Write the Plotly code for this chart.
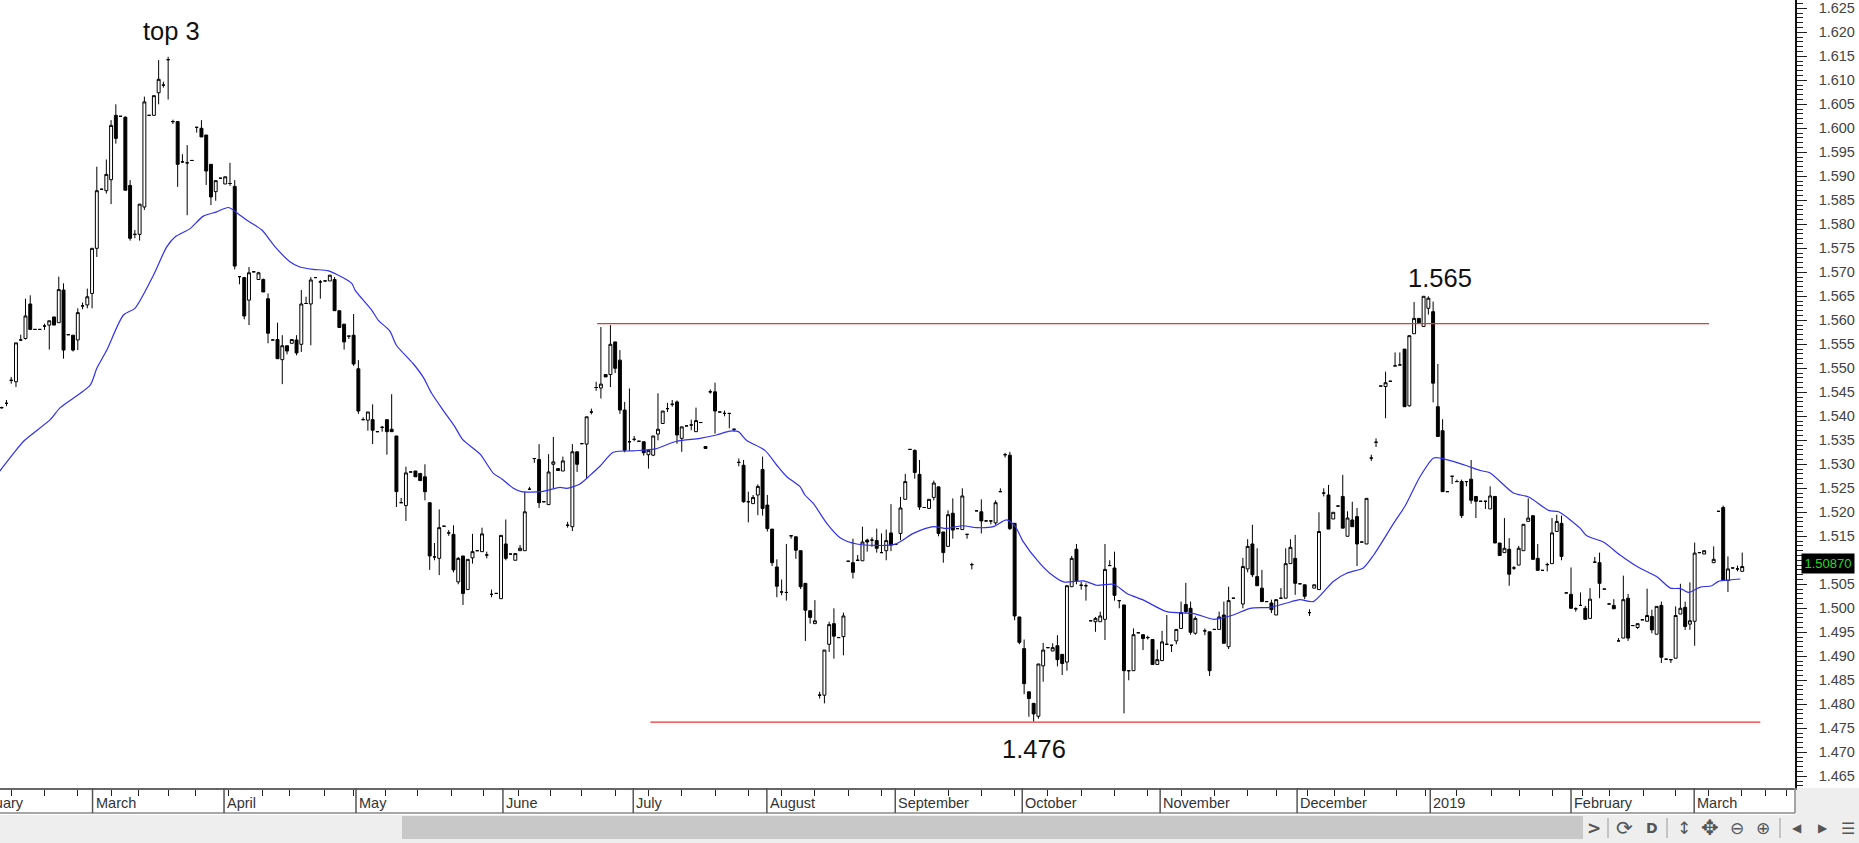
import plotly.graph_objects as go

# ---- daily bars (session number = position in the list; None = no bar) ----
opens = [
1.5418,1.5427,1.5475,1.5472,1.5559,1.5562,1.5634,1.5581,1.5581,1.5588,
1.5590,1.5607,1.5595,1.5663,1.5570,1.5569,1.5559,1.5630,1.5632,1.5656,
1.5750,1.5873,1.5870,1.5893,1.6027,1.6025,1.6023,1.5881,1.5779,1.5779,
1.5836,1.6027,1.6027,1.6074,1.6090,1.6143,1.6014,1.6014,1.5930,1.5928,
1.5933,1.6002,1.6000,1.5986,1.5925,1.5868,1.5896,1.5884,1.5885,1.5879,
1.5691,1.5689,1.5642,1.5701,1.5685,1.5685,1.5645,1.5559,1.5560,1.5518,
1.5547,1.5552,1.5559,1.5550,1.5635,1.5634,1.5689,1.5680,1.5682,1.5682,
1.5685,1.5620,1.5592,1.5567,1.5569,1.5499,1.5393,1.5392,1.5393,1.5368,
1.5377,1.5393,1.5373,1.5359,1.5220,1.5214,1.5284,1.5286,1.5281,1.5274,
1.5220,1.5107,1.5104,1.5171,1.5157,1.5154,1.5055,1.5109,1.5039,1.5105,
1.5120,1.5118,1.5111,1.5029,1.5031,1.5020,1.5134,1.5113,1.5100,1.5120,
1.5120,1.5248,1.5312,1.5310,1.5222,1.5216,1.5300,1.5291,1.5286,1.5173,
1.5170,1.5326,1.5343,1.5342,1.5409,1.5460,1.5459,1.5487,1.5487,1.5555,
1.5517,1.5413,1.5347,1.5352,1.5348,1.5347,1.5320,1.5319,1.5363,1.5385,
1.5416,1.5425,1.5430,1.5354,1.5380,1.5382,1.5368,1.5387,1.5337,1.5451,
1.5451,1.5409,1.5406,1.5406,1.5373,1.5304,1.5298,1.5222,1.5218,1.5236,
1.5289,1.5215,1.5165,1.5086,1.5034,1.5033,1.5151,1.5149,1.5120,1.5052,
1.4995,1.4968,1.4819,1.4819,1.4925,1.4968,1.4939,1.4941,1.5098,1.5095,
1.5100,1.5099,1.5142,1.5142,1.5141,1.5116,1.5120,1.5157,1.5133,1.5156,
1.5227,1.5331,1.5329,1.5279,1.5210,1.5208,1.5231,1.5253,1.5159,1.5129,
1.5198,1.5166,1.5164,1.5154,1.5091,1.5203,1.5201,1.5182,1.5182,1.5178,
1.5243,1.5320,1.5319,1.5177,1.4982,1.4916,1.4826,1.4802,1.4775,1.4880,
1.4918,1.4911,1.4922,1.4904,1.4888,1.5045,1.5123,1.5048,1.5047,1.4974,
1.4972,1.4972,1.4977,1.5089,1.5084,1.5016,1.5007,1.4870,1.4870,1.4949,
1.4945,1.4939,1.4935,1.4883,1.4891,1.4925,1.4923,1.4932,1.4958,1.5008,
1.5000,1.4948,None,1.4953,1.4951,1.4956,1.4956,1.4986,1.4920,1.5021,
None,1.5009,1.5082,1.5134,1.5066,1.5042,1.5014,1.5011,1.4986,1.5021,
1.5021,1.5093,1.5104,1.5051,1.5049,1.4991,1.5042,1.5039,1.5240,1.5236,
1.5186,1.5213,1.5233,1.5150,1.5184,1.5191,1.5138,1.5134,1.5313,1.5346,
1.5463,1.5462,1.5473,1.5505,1.5507,1.5540,1.5422,1.5572,1.5604,1.5587,
1.5625,1.5618,1.5420,1.5370,1.5243,1.5275,1.5264,1.5264,1.5264,1.5269,
1.5233,1.5223,1.5223,1.5207,1.5233,1.5136,1.5116,1.5123,1.5084,1.5090,
1.5120,1.5181,1.5193,1.5104,1.5079,1.5091,1.5093,1.5160,1.5177,1.5032,
1.5029,1.4999,1.5006,1.5000,1.4979,1.5096,1.5095,1.5040,1.5009,1.5006,
1.4932,1.4938,1.5021,1.4964,1.4960,1.4976,1.4973,1.4983,1.4946,1.5006,
1.4894,1.4893,1.4896,1.4988,1.5002,1.4967,1.4973,1.5116,1.5113,None,
1.5095,1.5202,1.5210,1.5058,1.5084,1.5082,1.5077]

highs = [
1.5420,1.5434,1.5482,1.5553,1.5570,1.5645,1.5652,1.5581,1.5581,1.5593,
1.5599,1.5607,1.5691,1.5677,1.5570,1.5569,1.5625,1.5637,1.5666,1.5750,
1.5920,1.5873,1.5935,1.6017,1.6050,1.6025,1.6025,1.5892,1.5788,1.5842,
1.6066,1.6027,1.6068,1.6142,1.6097,1.6149,1.6018,1.6014,1.5946,1.5965,
1.5933,1.6002,1.6017,1.5986,1.5925,1.5891,1.5896,1.5899,1.5928,1.5892,
1.5691,1.5689,1.5711,1.5701,1.5701,1.5687,1.5656,1.5559,1.5595,1.5569,
1.5547,1.5560,1.5569,1.5663,1.5649,1.5690,1.5689,1.5684,1.5682,1.5694,
1.5690,1.5620,1.5592,1.5567,1.5613,1.5517,1.5398,1.5409,1.5425,1.5368,
1.5380,1.5393,1.5446,1.5359,1.5230,1.5295,1.5284,1.5286,1.5281,1.5300,
1.5220,1.5136,1.5206,1.5171,1.5163,1.5173,1.5107,1.5109,1.5102,1.5155,
1.5120,1.5168,1.5118,1.5039,1.5031,1.5152,1.5185,1.5113,1.5114,1.5132,
1.5243,1.5253,1.5312,1.5342,1.5222,1.5321,1.5357,1.5291,1.5316,1.5180,
1.5342,1.5326,1.5343,1.5399,1.5416,1.5472,1.5586,1.5487,1.5590,1.5555,
1.5538,1.5430,1.5458,1.5359,1.5348,1.5347,1.5329,1.5359,1.5448,1.5411,
1.5428,1.5434,1.5433,1.5378,1.5380,1.5393,1.5418,1.5387,1.5337,1.5456,
1.5470,1.5409,1.5412,1.5406,1.5373,1.5312,1.5309,1.5243,1.5236,1.5258,
1.5316,1.5236,1.5165,1.5102,1.5060,1.5134,1.5151,1.5149,1.5120,1.5052,
1.4995,1.5017,1.4826,1.4913,1.4972,1.5000,1.4939,1.4991,1.5098,1.5145,
1.5111,1.5170,1.5145,1.5148,1.5166,1.5156,1.5164,1.5217,1.5133,1.5232,
1.5280,1.5331,1.5331,1.5309,1.5210,1.5227,1.5266,1.5253,1.5159,1.5204,
1.5229,1.5166,1.5250,1.5154,1.5095,1.5203,1.5227,1.5182,1.5182,1.5225,
1.5250,1.5324,1.5326,1.5177,1.4982,1.4935,1.4826,1.4802,1.4884,1.4928,
1.4918,1.4927,1.4944,1.4904,1.5047,1.5109,1.5134,1.5055,1.5052,1.4974,
1.4982,1.4993,1.5134,1.5100,1.5118,1.5016,1.5007,1.4870,1.4958,1.4949,
1.4945,1.4943,1.4935,1.4914,1.4953,1.4986,1.4923,1.4956,1.5014,1.5053,
1.5014,1.4983,None,1.4958,1.4951,1.4956,1.4993,1.5014,1.5045,1.5021,
None,1.5105,1.5144,1.5174,1.5125,1.5080,1.5014,1.5018,1.5018,1.5042,
1.5125,1.5144,1.5153,1.5051,1.5049,1.4998,1.5049,1.5200,1.5250,1.5257,
1.5200,1.5213,1.5278,1.5202,1.5222,1.5209,1.5138,1.5229,1.5320,1.5354,
1.5463,1.5493,1.5473,1.5533,1.5533,1.5540,1.5568,1.5638,1.5604,1.5650,
1.5650,1.5639,1.5509,1.5394,1.5243,1.5275,1.5268,1.5268,1.5264,1.5309,
1.5233,1.5223,1.5223,1.5254,1.5233,1.5136,1.5188,1.5146,1.5088,1.5130,
1.5175,1.5229,1.5193,1.5134,1.5079,1.5095,1.5188,1.5195,1.5193,1.5032,
1.5085,1.5002,1.5033,1.5005,1.5042,1.5107,1.5116,1.5040,1.5009,1.5019,
1.4938,1.5068,1.5030,1.4964,1.4968,1.4976,1.5041,1.4997,1.5004,1.5014,
1.4894,1.4893,1.5004,1.5051,1.5014,1.5054,1.5137,1.5116,1.5120,None,
1.5129,1.5202,1.5214,1.5108,1.5084,1.5089,1.5116]

lows = [
1.5416,1.5421,1.5468,1.5461,1.5557,1.5560,1.5581,1.5581,1.5581,1.5580,
1.5539,1.5590,1.5595,1.5520,1.5570,1.5535,1.5538,1.5623,1.5625,1.5625,
1.5732,1.5873,1.5864,1.5842,1.5968,1.6025,1.5871,1.5766,1.5771,1.5766,
1.5830,1.6027,1.6027,1.6050,1.6085,1.6060,1.6009,1.5878,1.5928,1.5819,
1.5933,1.5991,1.5982,1.5882,1.5840,1.5849,1.5896,1.5884,1.5880,1.5706,
1.5675,1.5602,1.5590,1.5701,1.5685,1.5659,1.5552,1.5559,1.5520,1.5467,
1.5529,1.5552,1.5527,1.5534,1.5635,1.5548,1.5689,1.5645,1.5682,1.5682,
1.5620,1.5585,1.5539,1.5561,1.5505,1.5405,1.5393,1.5370,1.5342,1.5368,
1.5368,1.5320,1.5368,1.5211,1.5220,1.5182,1.5284,1.5274,1.5266,1.5225,
1.5080,1.5100,1.5069,1.5171,1.5151,1.5075,1.5050,1.5007,1.5039,1.5093,
1.5120,1.5118,1.5104,1.5023,1.5031,1.5020,1.5100,1.5113,1.5100,1.5120,
1.5120,1.5248,1.5303,1.5209,1.5222,1.5216,1.5250,1.5287,1.5286,1.5168,
1.5161,1.5284,1.5343,1.5270,1.5404,1.5453,1.5437,1.5482,1.5461,1.5490,
1.5405,1.5325,1.5328,1.5348,1.5348,1.5318,1.5291,1.5317,1.5350,1.5385,
1.5409,1.5420,1.5343,1.5326,1.5380,1.5371,1.5368,1.5387,1.5333,1.5447,
1.5364,1.5409,1.5400,1.5375,1.5368,1.5296,1.5220,1.5179,1.5218,1.5194,
1.5193,1.5160,1.5088,1.5023,1.5027,1.5016,1.5145,1.5103,1.5040,1.4932,
1.4968,1.4968,1.4812,1.4802,1.4909,1.4895,1.4939,1.4902,1.5098,1.5062,
1.5100,1.5099,1.5118,1.5128,1.5116,1.5116,1.5100,1.5119,1.5133,1.5142,
1.5227,1.5331,1.5270,1.5205,1.5210,1.5208,1.5225,1.5150,1.5095,1.5129,
1.5145,1.5166,1.5164,1.5145,1.5081,1.5203,1.5156,1.5182,1.5175,1.5174,
1.5243,1.5314,1.5163,1.4975,1.4925,1.4821,1.4774,1.4764,1.4770,1.4847,
1.4918,1.4911,1.4879,1.4861,1.4870,1.5045,1.5050,1.5039,1.5016,1.4974,
1.4951,1.4972,1.4934,1.5089,1.5016,1.5000,1.4781,1.4850,1.4870,1.4949,
1.4913,1.4935,1.4883,1.4883,1.4891,1.4925,1.4909,1.4925,1.4958,1.4990,
1.4945,1.4945,None,1.4944,1.4859,1.4956,1.4956,1.4927,1.4915,1.5021,
None,1.5000,1.5075,1.5065,1.5047,1.5014,1.5014,1.4990,1.4986,1.5021,
1.5021,1.5093,1.5028,1.5051,1.5019,1.4984,1.5042,1.5039,1.5233,1.5165,
1.5186,1.5213,1.5167,1.5150,1.5170,1.5088,1.5138,1.5134,1.5307,1.5336,
1.5463,1.5396,1.5473,1.5505,1.5507,1.5420,1.5420,1.5572,1.5595,1.5587,
1.5612,1.5429,1.5358,1.5243,1.5243,1.5259,1.5264,1.5188,1.5254,1.5218,
1.5188,1.5223,1.5207,1.5207,1.5136,1.5110,1.5116,1.5047,1.5080,1.5090,
1.5120,1.5181,1.5102,1.5079,1.5079,1.5077,1.5093,1.5160,1.5100,1.5032,
1.5000,1.4993,1.5006,1.4977,1.4979,1.5096,1.5021,1.5040,1.5009,1.4999,
1.4932,1.4938,1.4932,1.4964,1.4957,1.4976,1.4973,1.4948,1.4946,1.4886,
1.4894,1.4886,1.4896,1.4988,1.4955,1.4955,1.4922,1.5116,1.5113,None,
1.5095,1.5202,1.5059,1.5034,1.5084,1.5077,1.5077]

closes = [
1.5418,1.5427,1.5475,1.5553,1.5559,1.5609,1.5581,1.5581,1.5581,1.5588,
1.5599,1.5590,1.5664,1.5538,1.5570,1.5538,1.5616,1.5630,1.5649,1.5750,
1.5870,1.5873,1.5904,1.6006,1.5979,1.6025,1.5871,1.5771,1.5779,1.5842,
1.6055,1.6027,1.6068,1.6102,1.6090,1.6143,1.6014,1.5925,1.5930,1.5928,
1.5933,1.6002,1.5982,1.5911,1.5857,1.5891,1.5896,1.5899,1.5885,1.5713,
1.5691,1.5609,1.5699,1.5701,1.5699,1.5659,1.5573,1.5559,1.5520,1.5547,
1.5536,1.5560,1.5532,1.5634,1.5635,1.5684,1.5689,1.5680,1.5682,1.5694,
1.5620,1.5585,1.5555,1.5567,1.5509,1.5411,1.5393,1.5409,1.5371,1.5368,
1.5377,1.5368,1.5368,1.5243,1.5220,1.5282,1.5284,1.5274,1.5266,1.5243,
1.5109,1.5107,1.5168,1.5171,1.5157,1.5080,1.5104,1.5031,1.5102,1.5118,
1.5120,1.5155,1.5111,1.5029,1.5031,1.5152,1.5104,1.5113,1.5114,1.5125,
1.5201,1.5248,1.5312,1.5220,1.5222,1.5284,1.5305,1.5287,1.5307,1.5173,
1.5326,1.5300,1.5343,1.5399,1.5409,1.5460,1.5467,1.5482,1.5550,1.5500,
1.5413,1.5329,1.5347,1.5352,1.5348,1.5324,1.5329,1.5359,1.5373,1.5411,
1.5416,1.5425,1.5361,1.5378,1.5380,1.5382,1.5391,1.5387,1.5333,1.5451,
1.5411,1.5409,1.5406,1.5406,1.5373,1.5304,1.5222,1.5222,1.5231,1.5254,
1.5208,1.5166,1.5095,1.5046,1.5034,1.5033,1.5151,1.5121,1.5045,1.4996,
1.4981,1.4974,1.4819,1.4913,1.4966,1.4942,1.4939,1.4984,1.5098,1.5075,
1.5100,1.5138,1.5138,1.5142,1.5125,1.5116,1.5141,1.5132,1.5133,1.5209,
1.5264,1.5331,1.5283,1.5211,1.5210,1.5227,1.5261,1.5156,1.5116,1.5195,
1.5163,1.5166,1.5234,1.5154,1.5091,1.5203,1.5182,1.5182,1.5182,1.5220,
1.5243,1.5320,1.5166,1.4984,1.4929,1.4843,1.4812,1.4780,1.4884,1.4913,
1.4918,1.4918,1.4893,1.4885,1.5047,1.5104,1.5057,1.5048,1.5047,1.4974,
1.4979,1.4984,1.5081,1.5089,1.5027,1.5016,1.4870,1.4870,1.4945,1.4949,
1.4937,1.4939,1.4883,1.4893,1.4930,1.4925,1.4923,1.4956,1.4991,1.4993,
1.4950,1.4979,None,1.4953,1.4870,1.4956,1.4982,1.4927,1.5016,1.5021,
None,1.5087,1.5129,1.5070,1.5047,1.5014,1.5014,1.4997,1.5018,1.5021,
1.5093,1.5127,1.5052,1.5051,1.5025,1.4991,1.5049,1.5160,1.5240,1.5165,
1.5200,1.5213,1.5167,1.5188,1.5170,1.5134,1.5138,1.5229,1.5313,1.5346,
1.5463,1.5470,1.5473,1.5505,1.5507,1.5420,1.5568,1.5604,1.5595,1.5650,
1.5646,1.5469,1.5358,1.5243,1.5243,1.5275,1.5264,1.5193,1.5264,1.5225,
1.5223,1.5223,1.5223,1.5234,1.5136,1.5110,1.5125,1.5071,1.5084,1.5125,
1.5175,1.5188,1.5102,1.5079,1.5079,1.5091,1.5157,1.5181,1.5108,1.5032,
1.5000,1.4999,1.5006,1.4977,1.5019,1.5096,1.5052,1.5040,1.5009,1.4999,
1.4932,1.5018,1.4938,1.4964,1.4968,1.4976,1.4985,1.4955,1.5004,1.4898,
1.4894,1.4893,1.4985,1.5000,1.4962,1.4974,1.5115,1.5116,1.5120,None,
1.5102,1.5202,1.5059,1.5082,1.5084,1.5082,1.5087]

sessions = list(range(len(opens)))

# ---- moving average ----
ma_sessions = [
-0.4,2.2,4.7,10.2,12.3,18.6,20,22.1,25.6,28,31.9,34.7,36.5,39.6,42.4,45.2,47.7,50.1,51.5,54.7,57.5,
60.6,62.7,65.5,68.7,73.6,74.3,77.8,79.2,81.6,83,86.5,88.6,90.4,92.8,95.3,96.9,100.6,103.4,105.1,107.6,
109.3,113.5,117.4,118.8,121.6,123.7,125.8,128.6,132.8,137.4,141.9,146.8,150.3,153.1,154.9,156.6,160.5,
163,165.1,167.9,168.9,170.7,173.5,176.3,179.8,187.8,191.7,195.9,198.7,201.9,205,208.5,211.3,213.1,214.8,
218,220.4,223.3,227.5,230.3,233.8,236.6,240.1,245,250.6,254.8,256.2,259,262.5,266.7,270.2,273,275.8,280,
282.8,286.3,288.5,292.7,295.1,298.3,301.1,302.5,308.1,310.9,313,317.9,321.1,325.3,327.4,331.9,333.3,336.8,
340.3,343.9,348,350.9,353,354.7,357.2,359.6,361,363.5,365.6]
ma_values = [
1.5286,1.5319,1.5349,1.5393,1.5418,1.5465,1.5500,1.5538,1.5611,1.5625,1.5694,1.5753,1.5774,1.5791,1.5817,1.5826,1.5835,1.5819,1.5809,1.5788,1.5753,
1.5722,1.5711,1.5706,1.5703,1.5677,1.5663,1.5621,1.5600,1.5578,1.5548,1.5510,1.5482,1.5448,1.5413,1.5378,1.5352,1.5321,1.5281,1.5270,1.5250,
1.5243,1.5243,1.5252,1.5250,1.5259,1.5277,1.5296,1.5325,1.5328,1.5332,1.5348,1.5354,1.5361,1.5369,1.5368,1.5350,1.5329,
1.5298,1.5274,1.5253,1.5236,1.5218,1.5177,1.5147,1.5134,1.5133,1.5156,1.5170,1.5166,1.5172,1.5168,1.5170,1.5184,1.5171,1.5139,
1.5097,1.5073,1.5055,1.5057,1.5048,1.5050,1.5031,1.5017,1.4993,1.4989,1.4977,1.4979,1.4986,1.5000,1.5002,1.5011,1.5018,1.5014,1.5056,
1.5073,1.5084,1.5111,1.5177,1.5213,1.5275,1.5313,1.5313,1.5297,1.5287,1.5282,1.5240,1.5232,1.5204,1.5201,1.5167,1.5151,1.5138,
1.5111,1.5087,1.5066,1.5042,1.5041,1.5033,1.5044,1.5047,1.5056,1.5059,1.5061]

# ---- horizontal levels ----
resistance_sessions = [125.2, 359.0]
resistance_level = [1.5593, 1.5593]
support_sessions = [136.4, 369.8]
support_level = [1.4763, 1.4763]

# ---- axis ----
y_range = [1.46256, 1.62673]
x_range = [-0.36, 377.1]
price_ticks = [1.465,1.470,1.475,1.480,1.485,1.490,1.495,1.500,1.505,1.510,1.515,1.520,1.525,1.530,1.535,1.540,
               1.545,1.550,1.555,1.560,1.565,1.570,1.575,1.580,1.585,1.590,1.595,1.600,1.605,1.610,1.615,1.620,1.625]
price_labels = ["1.465","1.470","1.475","1.480","1.485","1.490","1.495","1.500","1.505","","1.515","1.520","1.525",
                "1.530","1.535","1.540","1.545","1.550","1.555","1.560","1.565","1.570","1.575","1.580","1.585",
                "1.590","1.595","1.600","1.605","1.610","1.615","1.620","1.625"]
week_ticks = [2,9.1,15.9,23.1,28.8,35,40.8,47.7,54.8,60.6,67.8,73.9,80.6,87.5,94.5,101.4,108.6,115.3,
              122,129,136,143,150,157,164,171,178,185,192,199,206,213,220,227,234,241,248,255,262,268,
              274.5,280.3,286.5,293.2,299.3,306,313.2,319.1,326,332.4,338,345.2,352,359,365.8,370.8,375.4]
month_labels = ["March","April","May","June","July","August","September","October",
                "November","December","2019","February","March"]
month_starts = [19.1,46.75,74.5,105.4,132.8,160.9,187.9,214.6,243.6,272.4,300.4,330,355.9]

W, H, PW, PH = 1859, 843, 1795, 788
def px(v): return v / PW
def py(v): return 1 - v / PH
FONT = "Liberation Sans"

fig = go.Figure()
fig.add_trace(go.Candlestick(
    x=sessions, open=opens, high=highs, low=lows, close=closes,
    increasing=dict(line=dict(color="#000000", width=1), fillcolor="#ffffff"),
    decreasing=dict(line=dict(color="#000000", width=1), fillcolor="#000000"),
    whiskerwidth=0, showlegend=False, hoverinfo="skip"))
fig.add_trace(go.Scatter(x=ma_sessions, y=ma_values, mode="lines",
                         line=dict(color="#3030f0", width=1.2, shape="spline", smoothing=0.7),
                         showlegend=False, hoverinfo="skip"))
fig.add_trace(go.Scatter(x=resistance_sessions, y=resistance_level, mode="lines",
                         line=dict(color="#f23030", width=1.3), showlegend=False, hoverinfo="skip"))
fig.add_trace(go.Scatter(x=support_sessions, y=support_level, mode="lines",
                         line=dict(color="#f23030", width=1.3), showlegend=False, hoverinfo="skip"))

shapes = []
annots = []
# date strip and toolbar chrome
shapes.append(dict(type="rect", xref="paper", yref="paper", x0=px(PW), x1=px(W), y0=py(PH), y1=py(H),
                   fillcolor="#eeeeee", line_width=0, layer="below"))
shapes.append(dict(type="rect", xref="paper", yref="paper", x0=0, x1=px(W), y0=py(815), y1=py(H),
                   fillcolor="#eeeeee", line_width=0, layer="below"))
shapes.append(dict(type="rect", xref="paper", yref="paper", x0=px(402), x1=px(1583), y0=py(816), y1=py(839),
                   fillcolor="#c8c8c8", line_width=0, layer="below"))
shapes.append(dict(type="line", xref="paper", yref="paper", x0=0, x1=px(PW), y0=py(813), y1=py(813),
                   line=dict(color="#8a8a8a", width=1.5)))
shapes.append(dict(type="line", xref="paper", yref="paper", x0=px(PW), x1=px(PW), y0=py(PH), y1=py(813),
                   line=dict(color="#8a8a8a", width=1.5)))
annots.append(dict(x=px(-37), y=py(803), xref="paper", yref="paper", text="February", showarrow=False,
                   xanchor="left", yanchor="middle", font=dict(family=FONT, size=14.5, color="#333333")))
for s, name in zip(month_starts, month_labels):
    shapes.append(dict(type="line", xref="x", yref="paper", x0=s, x1=s, y0=py(PH), y1=py(813),
                       line=dict(color="#555555", width=1.5)))
    annots.append(dict(x=s, y=py(803), xref="x", yref="paper", text=name, showarrow=False,
                       xanchor="left", xshift=1, yanchor="middle",
                       font=dict(family=FONT, size=14.5, color="#333333")))
# chart notes
for txt, xv, yv in [("top 3", 35.8, 1.6203), ("1.565", 302.5, 1.5688), ("1.476", 217, 1.4707)]:
    annots.append(dict(x=xv, y=yv, text=txt, showarrow=False, xanchor="center", yanchor="middle",
                       font=dict(family=FONT, size=25.5, color="#111111")))
# current price box
annots.append(dict(x=px(1827.5), y=1.5093, xref="paper", yref="y", text="1.50870", showarrow=False,
                   bgcolor="#000000", borderpad=2, xanchor="center", yanchor="middle", width=48, height=15,
                   font=dict(family=FONT, size=13, color="#22dd22")))
# toolbar icons
for g, xp, sz in [("<b>&gt;</b>",1594,17),("⟳",1624,20),("<b>D</b>",1652,14),("↕",1684,17),("✥",1710,21),
                  ("⊖",1737,17),("⊕",1763,17),("◀",1797,12),("▶",1823,12),("☰",1848,16)]:
    annots.append(dict(x=px(xp), y=py(828), xref="paper", yref="paper", text=g, showarrow=False,
                       xanchor="center", yanchor="middle", font=dict(family="DejaVu Sans", size=sz, color="#555555")))
for xp in [1608, 1667, 1780]:
    shapes.append(dict(type="line", xref="paper", yref="paper", x0=px(xp), x1=px(xp), y0=py(818), y1=py(838),
                       line=dict(color="#9a9a9a", width=1)))

fig.update_layout(
    width=W, height=H, margin=dict(l=0, r=W - PW, t=0, b=H - PH, pad=0),
    paper_bgcolor="#ffffff", plot_bgcolor="#ffffff", showlegend=False, boxgap=0.12,
    shapes=shapes, annotations=annots,
    xaxis=dict(range=x_range, rangeslider=dict(visible=False), showgrid=False, zeroline=False,
               tickmode="array", tickvals=week_ticks, showticklabels=False, ticks="outside", ticklen=6,
               tickwidth=1, tickcolor="#222222", showline=True, linecolor="#666666", linewidth=1.5),
    yaxis=dict(range=y_range, side="right", showgrid=False, zeroline=False, tickmode="array",
               tickvals=price_ticks, ticktext=price_labels, ticks="outside", ticklen=10, tickwidth=1,
               tickcolor="#222222", showline=True, linecolor="#111111", linewidth=1.5,
               tickfont=dict(family=FONT, size=14.5, color="#444444"), ticklabelstandoff=9,
               minor=dict(tickmode="linear", dtick=0.001, tick0=1.465, ticks="outside", ticklen=6, tickwidth=1,
                          tickcolor="#222222", showgrid=False)),
)
assert len(opens) == len(highs) == len(lows) == len(closes)
assert len(ma_sessions) == len(ma_values)
assert len(price_ticks) == len(price_labels)
fig.write_html("out.html", config=dict(displayModeBar=False),
               post_script="document.body.style.margin='0';document.body.style.overflow='hidden';")
